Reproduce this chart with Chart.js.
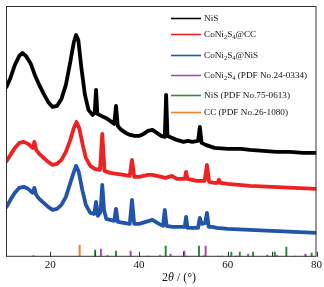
<!DOCTYPE html>
<html><head><meta charset="utf-8">
<script src="https://cdn.jsdelivr.net/npm/chart.js@4/dist/chart.umd.min.js"></script>
<style>html,body{margin:0;padding:0;background:#fff;overflow:hidden}</style>
</head><body>
<canvas id="c" width="324" height="287"></canvas>
<script>
// ---- data ----
const seriesLabels = ['NiS', 'CoNi₂S₄@CC', 'CoNi₂S₄@NiS', 'CoNi₂S₄ (PDF No.24-0334)', 'NiS (PDF No.75-0613)', 'CC (PDF No.26-1080)'];
const xTickLabels = [20, 40, 60, 80];

const nisTheta = [10,11,12,13,13.7,14.5,15.5,16.5,17.5,18.5,19.5,20.5,21.5,22.5,23.5,24.5,25.3,25.8,26.3,27,27.8,28.6,29.5,30.0,30.3,30.6,31.5,32.5,33.5,34.4,34.8,35.2,36,37,38,39,40,41,42,43,44,45,45.8,46.1,46.4,47.5,48.5,50,51,52,53.3,53.7,54.1,55,57,60,63,65,68,71,74,77,80];
const nisInt = [169,179,192,201,204,201,194,182,172,163,155,150,151,158,172,195,215,222,217,189,162,147,142,144,167,143,141,139,136,133,151,131,127,124,122,121,121,123,126,127,124,121,120,162,121,119,117,115,116,115,116,130,114,112,109,108,108,107,106,105,105,104,104];

const ccTheta = [10,11,12,13,14,15,16,16.4,16.8,17.5,18.5,19.5,20.5,21.5,22.5,23.5,24.5,25.3,25.9,26.5,27.3,28,29,30,31.2,31.7,32.2,33.5,35,36.5,37.9,38.4,38.9,40,41,42,43,44,45,46,47.4,48.5,50,50.3,50.6,50.9,52,53,54.8,55.3,55.8,57,57.7,58,58.3,60,65,70,75,80];
const ccInt = [95,102,109,114,115,113,109,115,107,103,99,95,92,93,97,105,117,129,135,129,112,99,91,88,87,123,86,84,83,82,81,97,80,80,81,82,82,81,80,79,81,78,78,78,85,78,77,76,76,92,75,74,74,77,74,73,71,70,69,68];

const cnTheta = [10,11,12,13,14,15,16,16.4,16.8,17.5,18.5,19.5,20.5,21.5,22.5,23.5,24.5,25.3,25.8,26.4,27.2,28,29,29.9,30.3,30.7,31.3,31.7,32.1,32.6,33.5,34.4,34.8,35.2,36.5,37.9,38.4,38.9,40,41.5,43,44.5,45.4,45.8,46.2,47.5,49.5,50.3,50.6,50.9,53.3,53.7,54.1,54.9,55.3,55.7,56.5,57.5,60,65,70,75,80];
const cnInt = [49,57,64,69,70,68,64,69,62,58,54,50,47,48,52,60,74,85,91,85,67,52,44,43,55,41,45,72,47,38,37,36,48,35,34,33,57,33,33,35,37,33,31,47,31,30,30,30,40,29,29,39,33,34,44,30,30,29,28,27,26,25,24];

const cnsRefPos = [16.2,31.4,32.9,38.1,41.7,47.1,50.2,55.0,57.8,58.6,61.9,64.6,68.9,71.1,75.3,77.5];
const cnsRefInt = [1.5,8,1.5,6,1,3,6,11,1,1,1,3,2,1.5,1,3];
const nisRefPos = [30.1,34.8,46.0,53.5,60.8,62.7,65.7,70.6,73.2,78.9];
const nisRefInt = [7,6,11,11,5,5,5,5,10,4];
const ccRefPos = [26.6,42.3,44.7,50.7,54.6,77.6];
const ccRefInt = [12,1,2,1,1.5,1.5];

// ---- styles ----
const colors = ['#000000', '#ee2222', '#2255aa', '#a050b0', '#2e8b3e', '#f08030'];
const serif = "'Liberation Serif', 'Times New Roman', serif";

const curve = (xs, ys) => xs.map((x, i) => ({x, y: ys[i]}));
const sticks = (ps, hs) => ps.flatMap((p, i) => [{x: p, y: 0}, {x: p, y: hs[i]}, {x: p, y: null}]);

const datasets = [
  {label: seriesLabels[0], data: curve(nisTheta, nisInt), borderColor: colors[0], borderWidth: 3.8},
  {label: seriesLabels[1], data: curve(ccTheta, ccInt), borderColor: colors[1], borderWidth: 3.8},
  {label: seriesLabels[2], data: curve(cnTheta, cnInt), borderColor: colors[2], borderWidth: 3.8},
  {label: seriesLabels[3], data: sticks(cnsRefPos, cnsRefInt), borderColor: colors[3], borderWidth: 2, spanGaps: false},
  {label: seriesLabels[4], data: sticks(nisRefPos, nisRefInt), borderColor: colors[4], borderWidth: 2, spanGaps: false},
  {label: seriesLabels[5], data: sticks(ccRefPos, ccRefInt), borderColor: colors[5], borderWidth: 2, spanGaps: false}
];
datasets.forEach(d => { d.pointRadius = 0; d.tension = 0; d.fill = false; d.borderJoinStyle = 'round'; });

const SUBS = '₀₁₂₃₄₅₆₇₈₉';
function drawRich(ctx, text, x, y, size) {
  for (const ch of text) {
    const k = SUBS.indexOf(ch);
    const s = k >= 0 ? String(k) : ch;
    ctx.font = (k >= 0 ? size * 0.7 : size) + 'px ' + serif;
    ctx.fillText(s, x, k >= 0 ? y + size * 0.28 : y);
    x += ctx.measureText(s).width;
  }
}

const framePlugin = {
  id: 'frame',
  afterDraw(chart) {
    const {ctx, chartArea: a} = chart;
    const xs = chart.scales.x;
    ctx.save();
    ctx.strokeStyle = '#333';
    ctx.lineWidth = 1;
    ctx.strokeRect(a.left + 0.5, a.top + 0.5, a.right - a.left - 1, a.bottom - a.top - 1);
    // inward ticks
    ctx.beginPath();
    xs.ticks.forEach(t => {
      const px = Math.round(xs.getPixelForValue(t.value)) + 0.5;
      ctx.moveTo(px, a.bottom);
      ctx.lineTo(px, a.bottom - 5);
    });
    ctx.stroke();
    // legend
    const rowY = [18, 34, 55, 75, 95, 112];
    ctx.textBaseline = 'middle';
    chart.data.datasets.forEach((d, i) => {
      const y = rowY[i];
      ctx.strokeStyle = d.borderColor;
      ctx.lineWidth = 1.6;
      ctx.beginPath();
      ctx.moveTo(171, y + 0.5);
      ctx.lineTo(201, y + 0.5);
      ctx.stroke();
      ctx.fillStyle = '#111';
      drawRich(ctx, d.label, 204, y + 0.5, 9.2);
    });
    // axis title: 2θ / (°)
    const parts = [['2', ''], ['θ', 'italic '], [' / (°)', '']];
    let tw = 0;
    parts.forEach(p => { ctx.font = p[1] + '12px ' + serif; tw += ctx.measureText(p[0]).width; });
    let x = 179 - tw / 2;
    ctx.textBaseline = 'middle';
    ctx.fillStyle = '#111';
    parts.forEach(p => { ctx.font = p[1] + '12px ' + serif; ctx.fillText(p[0], x, 278); x += ctx.measureText(p[0]).width; });
    ctx.restore();
  }
};

new Chart(document.getElementById('c'), {
  type: 'line',
  data: {datasets},
  options: {
    responsive: false,
    animation: false,
    events: [],
    layout: {padding: {left: 6, right: 7, top: 6, bottom: 13}},
    plugins: {legend: {display: false}, tooltip: {enabled: false}},
    scales: {
      x: {
        type: 'linear', min: 10, max: 80,
        grid: {display: false, drawTicks: false},
        border: {display: false},
        ticks: {
          stepSize: 10, padding: 2, color: '#111',
          font: {family: serif, size: 11},
          maxRotation: 0,
          callback: v => xTickLabels.includes(v) ? String(v) : ''
        }
      },
      y: {display: false, min: 0, max: 251}
    }
  },
  plugins: [framePlugin]
});
</script>
</body></html>
